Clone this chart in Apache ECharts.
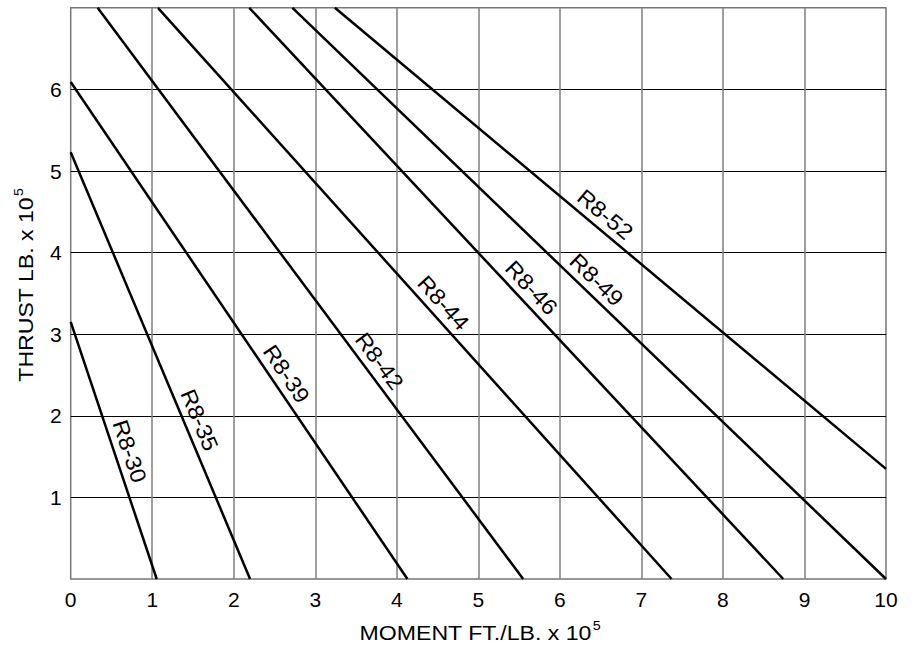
<!DOCTYPE html>
<html><head><meta charset="utf-8">
<script src="https://cdn.jsdelivr.net/npm/echarts@6/dist/echarts.min.js"></script>
<style>html,body{margin:0;padding:0;background:#fff}#c{width:914px;height:645px}</style>
</head><body><div id="c"></div>
<script>
// Curve names and end points (moment x 10^5 ft/lb, thrust x 10^5 lb)
const curveNames = ['R8-30','R8-35','R8-39','R8-42','R8-44','R8-46','R8-49','R8-52'];
const startX = [0, 0, 0, 0.33, 1.07, 2.19, 2.72, 3.24];
const startY = [3.15, 5.23, 6.09, 7, 7, 7, 7, 7];
const endX   = [1.055, 2.2, 4.13, 5.55, 7.37, 8.74, 10, 10];
const endY   = [0, 0, 0, 0, 0, 0, 0, 1.35];
const xTicks = [0,1,2,3,4,5,6,7,8,9,10];
const yTicks = [1,2,3,4,5,6];
const xTitle = 'MOMENT FT./LB. x 10';
const yTitle = 'THRUST LB. x 10';
const titleExp = '5';

// label placement along each curve (fraction of length)
const labelAlong = [0.521,0.641,0.604,0.634,0.534,0.508,0.495,0.473];

const FONT = '"Liberation Sans", Arial, Helvetica, sans-serif';
const chart = echarts.init(document.getElementById('c'), null, {renderer:'svg'});

const series = curveNames.map((n,i)=>({
  name:n, type:'line',
  data:[[startX[i],startY[i]],[endX[i],endY[i]]],
  symbol:'none', silent:true, clip:true,
  lineStyle:{color:'#000', width:2.5}
}));

chart.setOption({
  animation:false,
  backgroundColor:'#fff',
  grid:{left:70.7, right:28, top:7.8, bottom:66, show:true, borderColor:'#777', borderWidth:1.5, backgroundColor:'transparent'},
  xAxis:{type:'value', min:0, max:10, interval:1,
    axisLine:{show:false}, axisTick:{show:false},
    axisLabel:{fontFamily:FONT, fontSize:21, color:'#000', margin:10,
      formatter: v => xTicks.includes(v) ? String(v) : ''},
    splitLine:{show:true, showMinLine:false, showMaxLine:false, lineStyle:{color:'#7f7f7f', width:1.5}}},
  yAxis:{type:'value', min:0, max:7, interval:1,
    axisLine:{show:false}, axisTick:{show:false},
    axisLabel:{fontFamily:FONT, fontSize:21, color:'#000', margin:9,
      formatter: v => yTicks.includes(v) ? String(v) : ''},
    splitLine:{show:true, showMinLine:false, showMaxLine:false, lineStyle:{color:'#000', width:1}}},
  series
});

const gfx = [];
curveNames.forEach((n,i)=>{
  const p0 = chart.convertToPixel({gridIndex:0},[startX[i],startY[i]]);
  const p1 = chart.convertToPixel({gridIndex:0},[endX[i],endY[i]]);
  const dx=p1[0]-p0[0], dy=p1[1]-p0[1], L=Math.hypot(dx,dy);
  const t=labelAlong[i], off=15;
  const cx=p0[0]+dx*t + dy/L*off, cy=p0[1]+dy*t - dx/L*off;
  gfx.push({type:'text', x:cx, y:cy, rotation:-Math.atan2(dy,dx), scaleX:1.08, silent:true, z:100,
    style:{text:n, font:'22px ' + FONT, fill:'#000', align:'center', verticalAlign:'middle'}});
});
const rich = {
  m:{fontFamily:FONT, fontSize:21, fill:'#000', color:'#000', lineHeight:24, verticalAlign:'bottom'},
  s:{fontFamily:FONT, fontSize:13, fill:'#000', color:'#000', lineHeight:24, verticalAlign:'top', padding:[0,0,0,1]}
};
gfx.push({type:'text', x:480, y:631, scaleX:1.1, silent:true,
  style:{text:'{m|'+xTitle+'}{s|'+titleExp+'}', rich, align:'center', verticalAlign:'middle'}});
gfx.push({type:'text', x:24, y:285, rotation:Math.PI/2, scaleX:1.1, silent:true,
  style:{text:'{m|'+yTitle+'}{s|'+titleExp+'}', rich, align:'center', verticalAlign:'middle'}});
chart.setOption({graphic:gfx});
</script>
</body></html>
